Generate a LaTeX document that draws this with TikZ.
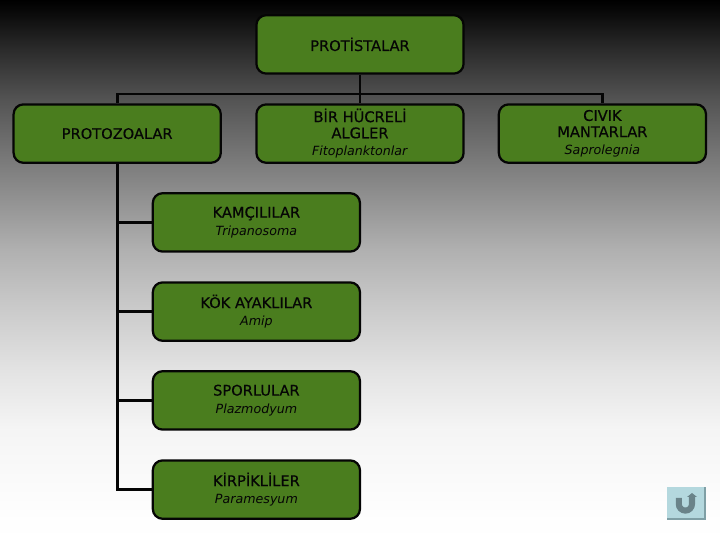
\documentclass[tikz,border=0pt]{standalone}
\usepackage{fontspec}
\setmainfont{DejaVu Sans}[FakeBold=0.4,ItalicFeatures={FakeBold=0}]
\usetikzlibrary{arrows.meta,positioning,calc}
\definecolor{leaf}{HTML}{4A7D1E}
\definecolor{ink}{HTML}{050505}
\definecolor{btnface}{HTML}{B4D8DE}
\definecolor{btnedge}{HTML}{7F9FA5}
\definecolor{btnicon}{HTML}{6A8389}
\pgfdeclareverticalshading{slidebg}{100bp}{
  color(0bp)=(white); color(25bp)=(white); color(28.7bp)=(black!1);
  color(35.2bp)=(black!4); color(40.7bp)=(black!11); color(47.2bp)=(black!22);
  color(51.9bp)=(black!31); color(59.3bp)=(black!50); color(65.7bp)=(black!67);
  color(70.4bp)=(black!83); color(74.1bp)=(black!97);
  color(75bp)=(black); color(100bp)=(black)}
\newcommand{\genus}[1]{{\fontsize{9}{11.5}\selectfont\textit{#1}}}

\begin{document}
\begin{tikzpicture}[
  font=\fontsize{10.4}{11.5}\selectfont,
  taxon/.style={draw=ink,line width=1.6pt,rounded corners=7pt,fill=leaf,text=ink,
                minimum width=5.18cm,minimum height=1.46cm,inner sep=0pt,align=center},
  wire/.style={draw=ink,line width=2pt},
]
% Slide background, fixes the page size too.
\shade[shading=slidebg] (0,0) rectangle (18,13.5);

% Top of the tree.
\node[taxon] (protist) at (9.0,12.39) {PROTİSTALAR};

% Second row.
\node[taxon] (protozoa) at (2.93,10.16) {PROTOZOALAR};
\node[taxon] (algae) at (9.0,10.16) {BİR HÜCRELİ\\ALGLER\\[1pt]\genus{Fitoplanktonlar}};
\node[taxon] (slime) at (15.06,10.16) {CIVIK\\MANTARLAR\\[1pt]\genus{Saprolegnia}};

% Protozoa groups.
\node[taxon] (flagella) at (6.41,7.94) {KAMÇILILAR\\[1.2pt]\genus{Tripanosoma}};
\node[taxon] (rhizo) at (6.41,5.71) {KÖK AYAKLILAR\\[1.2pt]\genus{Amip}};
\node[taxon] (spore) at (6.41,3.49) {SPORLULAR\\[1.2pt]\genus{Plazmodyum}};
\node[taxon] (cilia) at (6.41,1.26) {KİRPİKLİLER\\[1.2pt]\genus{Paramesyum}};

% Horizontal bus under the top box.
\coordinate (bus) at (9.0,11.15);
\draw[wire] (protist.south) -- (algae.north);
\draw[wire] (bus) -| (protozoa.north);
\draw[wire] (bus) -| (slime.north);

% Trunk down the left side.
\draw[wire] (protozoa.south) |- (flagella.west);
\draw[wire] (protozoa.south) |- (rhizo.west);
\draw[wire] (protozoa.south) |- (spore.west);
\draw[wire] (protozoa.south) |- (cilia.west);

% Return button.
\fill[btnedge] (16.675,0.5) rectangle (17.65,1.325);
\fill[btnface] (16.675,0.55) rectangle (17.6,1.325);
\draw[btnicon,line width=4.3pt] (16.97,1.05) -- (16.97,0.9)
  arc[start angle=180,end angle=360,radius=0.165] -- (17.3,1.08);
\fill[btnicon] (17.175,1.075) -- (17.3,1.175) -- (17.425,1.075) -- cycle;
\end{tikzpicture}
\end{document}
